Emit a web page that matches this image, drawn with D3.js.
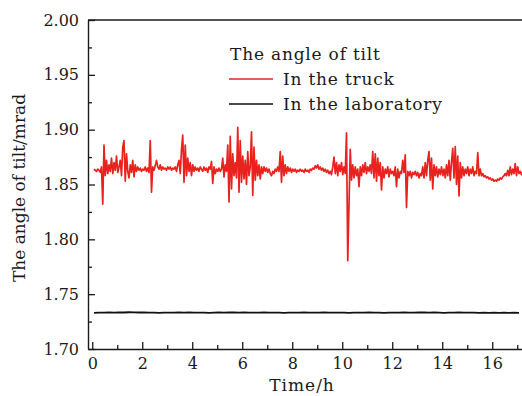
<!doctype html>
<html lang="en">
<head>
  <meta charset="utf-8">
  <title>The angle of tilt</title>
  <script src="https://cdnjs.cloudflare.com/ajax/libs/d3/7.8.5/d3.min.js"></script>
  <style>
    body { margin: 0; background: #fff; }
    text { font-family: "DejaVu Serif", serif; fill: #1a1a1a; }
  </style>
</head>
<body>
  <svg width="522" height="396" id="svg"></svg>

<script>
  // axis ticks
  var xTicks = [0, 2, 4, 6, 8, 10, 12, 14, 16];
  var yTicks = [1.70, 1.75, 1.80, 1.85, 1.90, 1.95, 2.00];

  // truck series: one reading every 0.05 h, starting at 0.07 h (one row per hour)
  var truckStart = 0.07, truckStep = 0.05;
  var truckAngle = [
    1.864, 1.863, 1.862, 1.864, 1.863, 1.861, 1.866, 1.832, 1.886, 1.858, 1.872, 1.860, 1.868, 1.862, 1.874, 1.860, 1.870, 1.863, 1.876, 1.861,
    1.866, 1.872, 1.858, 1.884, 1.890, 1.853, 1.878, 1.862, 1.856, 1.868, 1.861, 1.872, 1.857, 1.868, 1.862, 1.866, 1.863, 1.865, 1.862, 1.864,
    1.863, 1.866, 1.862, 1.865, 1.861, 1.890, 1.843, 1.866, 1.863, 1.867, 1.872, 1.866, 1.864, 1.868, 1.863, 1.866, 1.864, 1.865, 1.863, 1.866,
    1.864, 1.866, 1.863, 1.865, 1.864, 1.866, 1.862, 1.868, 1.872, 1.860, 1.882, 1.895, 1.852, 1.886, 1.858, 1.874, 1.862, 1.870, 1.858, 1.868,
    1.862, 1.866, 1.863, 1.865, 1.862, 1.866, 1.864, 1.862, 1.866, 1.863, 1.865, 1.861, 1.866, 1.864, 1.871, 1.851, 1.866, 1.860, 1.864, 1.862,
    1.865, 1.862, 1.864, 1.874, 1.857, 1.868, 1.862, 1.886, 1.834, 1.894, 1.846, 1.878, 1.858, 1.870, 1.856, 1.902, 1.843, 1.890, 1.852, 1.876,
    1.855, 1.872, 1.850, 1.880, 1.858, 1.866, 1.898, 1.840, 1.884, 1.854, 1.872, 1.858, 1.868, 1.855, 1.866, 1.860, 1.866, 1.862, 1.865, 1.861,
    1.864, 1.860, 1.858, 1.862, 1.860, 1.864, 1.862, 1.866, 1.862, 1.880, 1.852, 1.876, 1.858, 1.868, 1.860, 1.866, 1.862, 1.865, 1.861, 1.864,
    1.862, 1.864, 1.861, 1.863, 1.862, 1.864, 1.862, 1.863, 1.861, 1.864, 1.862, 1.863, 1.861, 1.864, 1.863, 1.865, 1.864, 1.867, 1.865, 1.868,
    1.864, 1.866, 1.863, 1.865, 1.862, 1.864, 1.861, 1.863, 1.860, 1.862, 1.859, 1.866, 1.875, 1.860, 1.870, 1.858, 1.868, 1.862, 1.870, 1.859,
    1.866, 1.860, 1.897, 1.7805, 1.831, 1.882, 1.854, 1.868, 1.856, 1.866, 1.858, 1.864, 1.848, 1.866, 1.858, 1.868, 1.861, 1.870, 1.860, 1.866,
    1.862, 1.868, 1.860, 1.880, 1.856, 1.878, 1.853, 1.874, 1.858, 1.870, 1.845, 1.866, 1.856, 1.864, 1.860, 1.866, 1.857, 1.864, 1.860, 1.862,
    1.858, 1.866, 1.848, 1.864, 1.856, 1.862, 1.860, 1.872, 1.861, 1.877, 1.829, 1.862, 1.858, 1.862, 1.856, 1.861, 1.859, 1.862, 1.858, 1.861,
    1.856, 1.860, 1.858, 1.866, 1.856, 1.870, 1.858, 1.872, 1.880, 1.854, 1.874, 1.846, 1.868, 1.858, 1.866, 1.857, 1.864, 1.859, 1.866, 1.858,
    1.864, 1.856, 1.868, 1.858, 1.872, 1.854, 1.870, 1.883, 1.856, 1.8845, 1.850, 1.876, 1.8395, 1.870, 1.856, 1.866, 1.858, 1.864, 1.860, 1.866,
    1.858, 1.864, 1.860, 1.866, 1.858, 1.862, 1.860, 1.879, 1.858, 1.864, 1.858, 1.860, 1.857, 1.858, 1.856, 1.857, 1.855, 1.856, 1.854, 1.855,
    1.853, 1.854, 1.853, 1.855, 1.854, 1.856, 1.855, 1.857, 1.858, 1.860, 1.858, 1.863, 1.858, 1.866, 1.859, 1.864, 1.860, 1.869, 1.858, 1.866,
    1.860, 1.862, 1.859, 1.861
  ];

  // laboratory series: one reading every 0.2 h, starting at 0.07 h
  var labStart = 0.07, labStep = 0.2;
  var labAngle = [
    1.7330, 1.7332, 1.7331, 1.7333, 1.7332, 1.7334, 1.7333, 1.7335, 1.7334, 1.7333,
    1.7334, 1.7332, 1.7331, 1.7330, 1.7331, 1.7332, 1.7331, 1.7333, 1.7332, 1.7333,
    1.7332, 1.7331, 1.7332, 1.7330, 1.7331, 1.7333, 1.7332, 1.7334, 1.7333, 1.7332,
    1.7333, 1.7331, 1.7332, 1.7331, 1.7333, 1.7332, 1.7331, 1.7332, 1.7330, 1.7331,
    1.7332, 1.7331, 1.7333, 1.7332, 1.7331, 1.7332, 1.7333, 1.7331, 1.7332, 1.7331,
    1.7332, 1.7330, 1.7331, 1.7332, 1.7331, 1.7333, 1.7332, 1.7331, 1.7330, 1.7331,
    1.7332, 1.7331, 1.7333, 1.7332, 1.7331, 1.7333, 1.7334, 1.7332, 1.7333, 1.7331,
    1.7330, 1.7331, 1.7332, 1.7333, 1.7332, 1.7331, 1.7332, 1.7330, 1.7331, 1.7330,
    1.7331, 1.7330, 1.7331, 1.7330, 1.7331, 1.7330
  ];

  var seriesNames = ["In the truck", "In the laboratory"];
  var seriesColors = ["#e8221d", "#111"];

  var svg = d3.select('#svg');
  var plotLeft = 88, plotRight = 522, plotTop = 20, plotBottom = 349;

  var x = d3.scaleLinear().domain([-0.17, 17.19]).range([plotLeft, plotRight]);
  var y = d3.scaleLinear().domain([1.70, 2.00]).range([plotBottom, plotTop]);

  var truck = truckAngle.map(function(v, i) { return [truckStart + i * truckStep, v]; });
  var lab = labAngle.map(function(v, i) { return [labStart + i * labStep, v]; });

  var line = d3.line().x(function(d) { return x(d[0]); }).y(function(d) { return y(d[1]); });

  svg.append('path').datum(lab)
    .attr('d', line).attr('fill', 'none')
    .attr('stroke', seriesColors[1]).attr('stroke-width', 1.8);

  svg.append('path').datum(truck)
    .attr('d', line).attr('fill', 'none')
    .attr('stroke', seriesColors[0]).attr('stroke-width', 1.7)
    .attr('stroke-linejoin', 'round');

  // minor ticks (no labels)
  var xMinor = d3.range(1, 18, 2);
  var yMinor = [1.725, 1.775, 1.825, 1.875, 1.925, 1.975];

  svg.append('g').attr('transform', 'translate(0,' + plotBottom + ')')
    .call(d3.axisBottom(x).tickValues(xMinor).tickSizeInner(-4).tickSizeOuter(0).tickFormat(''))
    .call(function(g) { g.select('.domain').remove(); });
  svg.append('g').attr('transform', 'translate(' + plotLeft + ',0)')
    .call(d3.axisLeft(y).tickValues(yMinor).tickSizeInner(-4).tickSizeOuter(0).tickFormat(''))
    .call(function(g) { g.select('.domain').remove(); });

  var xAxis = svg.append('g').attr('transform', 'translate(0,' + plotBottom + ')')
    .call(d3.axisBottom(x).tickValues(xTicks).tickSizeInner(-7).tickSizeOuter(0).tickPadding(9));
  var yAxis = svg.append('g').attr('transform', 'translate(' + plotLeft + ',0)')
    .call(d3.axisLeft(y).tickValues(yTicks).tickSizeInner(-7).tickSizeOuter(0).tickPadding(9)
      .tickFormat(d3.format('.2f')));

  svg.selectAll('.tick line').attr('stroke', '#1a1a1a').attr('stroke-width', 1.3);
  svg.selectAll('.domain').attr('stroke', '#1a1a1a').attr('stroke-width', 1.4);
  xAxis.selectAll('text').attr('font-size', 16).attr('font-family', '"DejaVu Serif", serif').attr('fill', '#1a1a1a');
  yAxis.selectAll('text').attr('font-size', 16).attr('font-family', '"DejaVu Serif", serif').attr('fill', '#1a1a1a');

  // top frame line
  svg.append('line').attr('x1', plotLeft).attr('x2', plotRight).attr('y1', plotTop).attr('y2', plotTop)
    .attr('stroke', '#1a1a1a').attr('stroke-width', 1.4);

  // axis titles
  svg.append('text').attr('x', 302).attr('y', 391).attr('text-anchor', 'middle')
    .attr('font-size', 17).attr('letter-spacing', 1).text('Time/h');
  svg.append('text').attr('transform', 'translate(25,' + 188 + ') rotate(-90)')
    .attr('text-anchor', 'middle').attr('font-size', 17).text('The angle of tilt/mrad');

  // legend
  var legend = svg.append('g');
  legend.append('text').attr('x', 230).attr('y', 60).attr('font-size', 17)
    .attr('letter-spacing', 0.8).text('The angle of tilt');
  seriesNames.forEach(function(name, i) {
    var ly = 79 + i * 25;
    legend.append('line').attr('x1', 229).attr('x2', 273).attr('y1', ly).attr('y2', ly)
      .attr('stroke', seriesColors[i]).attr('stroke-width', 1.3);
    legend.append('text').attr('x', 283).attr('y', ly + 6).attr('font-size', 17)
      .attr('letter-spacing', 0.8).text(name);
  });
</script>
</body>
</html>
